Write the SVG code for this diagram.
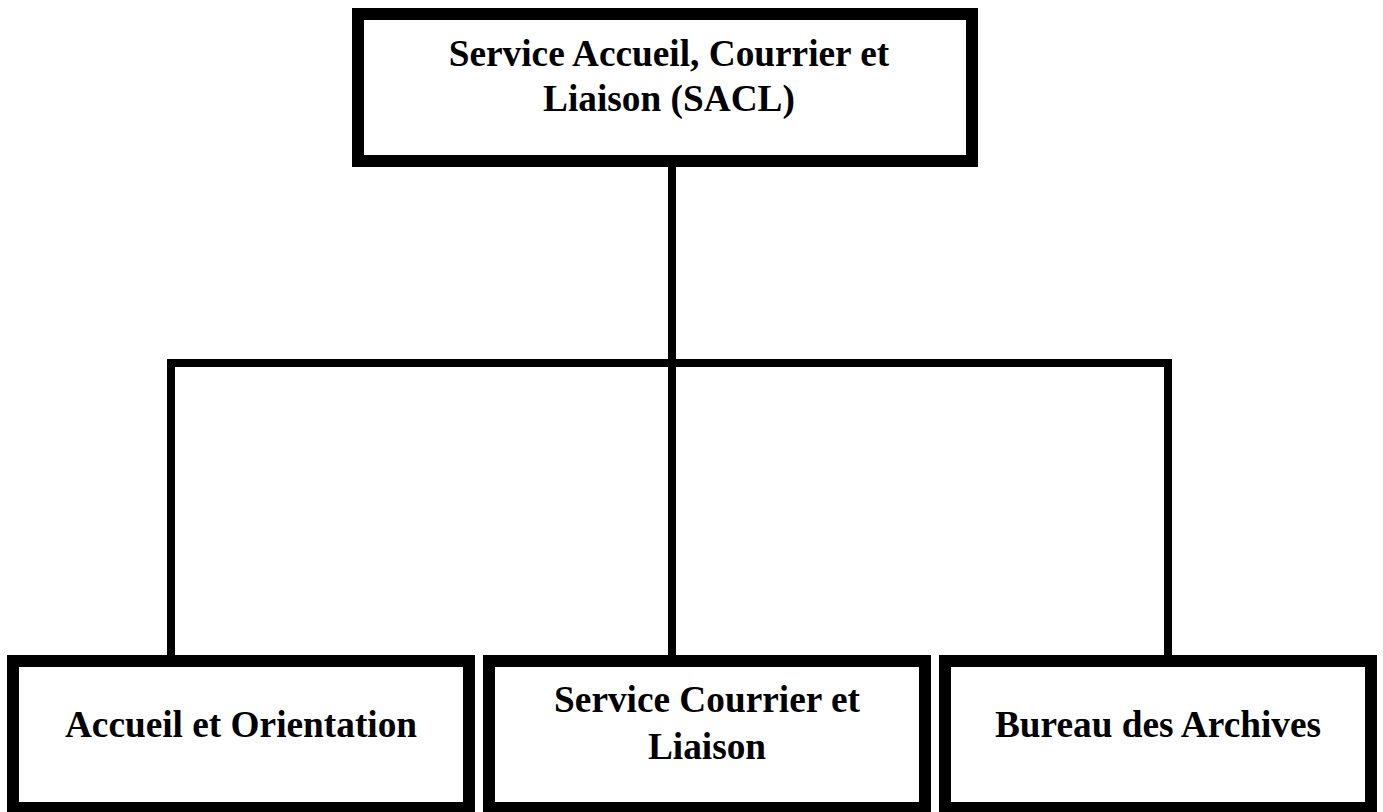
<svg xmlns="http://www.w3.org/2000/svg" width="1383" height="812" viewBox="0 0 1383 812">
<style>
.box{fill:#fff;stroke:#000;stroke-width:12}
.t{font-family:"Liberation Serif","Times New Roman",serif;font-weight:bold;font-size:37.3px;fill:#000;text-anchor:middle}
.c{fill:none;stroke:#000;stroke-width:8;stroke-linecap:square}
</style>
<rect width="1383" height="812" fill="#fff"/>
<g id="connectors">
<line class="c" x1="672" y1="167" x2="672" y2="655"/>
<line class="c" x1="171" y1="363" x2="1168" y2="363"/>
<line class="c" x1="171" y1="363" x2="171" y2="655"/>
<line class="c" x1="1168" y1="363" x2="1168" y2="655"/>
</g>
<g id="sacl">
<rect class="box" x="358" y="14" width="614" height="147"/>
<text class="t" x="669" y="66">Service Accueil, Courrier et</text>
<text class="t" x="669" y="111">Liaison (SACL)</text>
</g>
<g id="accueil">
<rect class="box" x="13" y="661" width="456" height="147"/>
<text class="t" x="241" y="737">Accueil et Orientation</text>
</g>
<g id="courrier">
<rect class="box" x="489" y="661" width="436" height="147"/>
<text class="t" x="707" y="712">Service Courrier et</text>
<text class="t" x="707" y="759">Liaison</text>
</g>
<g id="archives">
<rect class="box" x="945" y="661" width="426" height="147"/>
<text class="t" x="1158" y="737">Bureau des Archives</text>
</g>
</svg>
